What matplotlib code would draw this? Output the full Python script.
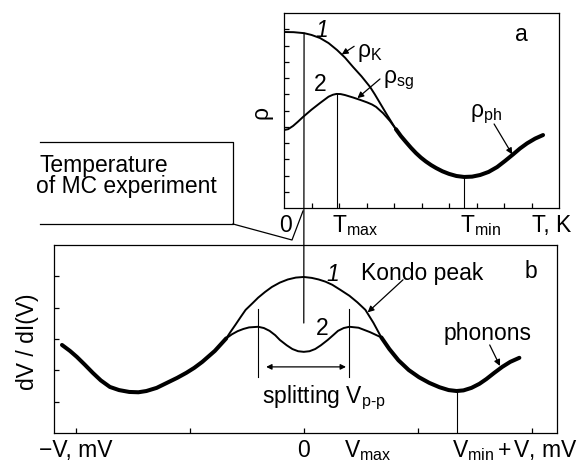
import numpy as np
import matplotlib.pyplot as plt
from matplotlib.lines import Line2D
from matplotlib.patches import ConnectionPatch

plt.rcParams['font.family'] = ['Liberation Sans', 'DejaVu Sans']
plt.rcParams['mathtext.fontset'] = 'custom'
plt.rcParams['mathtext.rm'] = 'Liberation Sans'
plt.rcParams['mathtext.it'] = 'Liberation Sans:italic'

W, H = 581, 462
FS = 16.5

# (a) resistivity vs temperature, in tick units
t_kondo = [0, 0.35, 0.73, 1.0, 1.31, 1.62, 1.93, 2.22, 2.51, 2.82, 3.13, 3.30, 3.49, 3.75, 4.07]
rho_kondo = [10.83, 10.82, 10.76, 10.65, 10.46, 10.15, 9.72, 9.25, 8.68, 8.10, 7.45, 7.00, 6.46, 5.72, 4.85]

t_sg = [0, 0.15, 0.33, 0.50, 0.69, 1.0, 1.31, 1.62, 1.78, 1.91, 2.06, 2.22, 2.51, 2.76,
        3.02, 3.20, 3.35, 3.60, 3.85, 4.07]
rho_sg = [4.80, 4.85, 5.05, 5.30, 5.60, 6.05, 6.46, 6.85, 6.97, 7.02, 7.01, 6.95, 6.80, 6.66,
          6.50, 6.37, 6.22, 5.84, 5.36, 4.85]

t_ph = [4.07, 4.25, 4.44, 4.62, 4.80, 4.98, 5.16, 5.35, 5.53, 5.76, 6.00, 6.27, 6.55,
        6.84, 7.13, 7.44, 7.75, 8.04, 8.33, 8.58, 8.84, 9.13, 9.42]
rho_ph = [4.85, 4.43, 4.05, 3.70, 3.38, 3.10, 2.86, 2.64, 2.46, 2.26, 2.10, 1.97, 1.91,
          1.93, 2.03, 2.22, 2.52, 2.90, 3.30, 3.66, 3.98, 4.27, 4.49]

t_max, rho_max = 1.91, 7.02
t_min, rho_min = 6.55, 1.91
t_mc = 0.73  # temperature of the MC experiment

# (b) differential resistance vs bias, in tick units
v_left = [-2.12, -2.05, -1.99, -1.92, -1.85, -1.78, -1.70, -1.62, -1.53, -1.45, -1.38,
          -1.29, -1.20, -1.11, -1.03, -0.96, -0.89, -0.78, -0.68]
r_left = [2.81, 2.62, 2.43, 2.18, 1.92, 1.68, 1.47, 1.37, 1.31, 1.30, 1.34,
          1.44, 1.60, 1.76, 1.92, 2.08, 2.27, 2.62, 3.02]

v_right = [0.68, 0.75, 0.83, 0.92, 1.01, 1.10, 1.19, 1.27, 1.34, 1.40, 1.47, 1.54,
           1.60, 1.67, 1.74, 1.81, 1.89]
r_right = [3.05, 2.68, 2.32, 2.01, 1.78, 1.60, 1.46, 1.37, 1.34, 1.36, 1.44, 1.57,
           1.72, 1.92, 2.11, 2.27, 2.40]

v_kondo = [-0.68, -0.64, -0.60, -0.55, -0.51, -0.45, -0.40, -0.34, -0.28, -0.21, -0.14,
           -0.07, 0, 0.07, 0.13, 0.19, 0.25, 0.32, 0.40, 0.47, 0.54, 0.61, 0.68]
r_kondo = [3.02, 3.24, 3.45, 3.72, 3.93, 4.14, 4.32, 4.50, 4.66, 4.80, 4.90,
           4.96, 4.98, 4.95, 4.90, 4.83, 4.73, 4.57, 4.38, 4.17, 3.93, 3.52, 3.05]

v_split = [-0.68, -0.63, -0.58, -0.53, -0.48, -0.40, -0.35, -0.30, -0.25, -0.21, -0.15,
           -0.10, -0.05, 0, 0.05, 0.10, 0.15, 0.21, 0.26, 0.30, 0.35, 0.40, 0.48, 0.58, 0.68]
r_split = [3.02, 3.15, 3.25, 3.32, 3.37, 3.39, 3.35, 3.26, 3.12, 2.97, 2.80,
           2.68, 2.61, 2.59, 2.61, 2.68, 2.80, 2.97, 3.13, 3.26, 3.35, 3.39, 3.36, 3.22, 3.05]

v_max = 0.40
v_min, r_min = 1.34, 1.34
mc_mark_end = 3.51


def fig_xy(px, py):
    return px / W, 1 - py / H


fig = plt.figure(figsize=(W / 100, H / 100), dpi=100)
ax_a = fig.add_axes([284 / W, 1 - 208 / H, 275 / W, 195 / H])
ax_b = fig.add_axes([54 / W, 1 - 433 / H, 503 / W, 188 / H])

for ax in (ax_a, ax_b):
    for s in ax.spines.values():
        s.set_linewidth(0.9)
    ax.tick_params(direction='in', length=3.3, width=0.9, labelbottom=False, labelleft=False)

thin = dict(color='black', lw=1.4, solid_capstyle='round', solid_joinstyle='round')
thick = dict(color='black', lw=2.9, solid_capstyle='round', solid_joinstyle='round')
rule = dict(color='black', lw=0.8)

# ---- panel a
ax_a.set_xlim(0, 10)
ax_a.set_ylim(0, 12)
ax_a.set_xticks(range(1, 10))
ax_a.set_yticks(range(1, 12))
ax_a.plot(t_kondo, rho_kondo, **thin)
ax_a.plot(t_sg, rho_sg, **thin)
ax_a.plot(t_ph, rho_ph, **thick)
ax_a.plot([t_max, t_max], [0, rho_max], **rule)
ax_a.plot([t_min, t_min], [0, rho_min], **rule)

lbl_a = ax_a.get_xaxis_transform()
ax_a.text(0.06, -0.125, '0', transform=lbl_a, ha='center', va='baseline', fontsize=FS)
ax_a.text(t_max - 0.15, -0.125, r'T$_{\rm max}$', transform=lbl_a, ha='left', va='baseline', fontsize=FS)
ax_a.text(t_min - 0.15, -0.125, r'T$_{\rm min}$', transform=lbl_a, ha='left', va='baseline', fontsize=FS)
ax_a.text(9.02, -0.125, 'T, K', transform=lbl_a, ha='left', va='baseline', fontsize=FS)
ax_a.text(-0.084, 0.49, 'ρ', transform=ax_a.transAxes, rotation=90, ha='center', va='center', fontsize=FS)

ax_a.text(1.38, 10.95, '1', style='italic', ha='center', va='center', fontsize=FS)
ax_a.text(1.31, 7.57, '2', ha='center', va='center', fontsize=FS)
ax_a.text(3.13, 9.6, r'ρ$_{\rm K}$', ha='center', va='center', fontsize=FS)
ax_a.text(4.15, 7.88, r'ρ$_{\rm sg}$', ha='center', va='center', fontsize=FS)
ax_a.text(7.35, 5.78, r'ρ$_{\rm ph}$', ha='center', va='center', fontsize=FS)
ax_a.text(8.62, 10.65, 'a', ha='center', va='center', fontsize=FS)

arr = dict(arrowstyle='-|>', color='black', lw=0.9, mutation_scale=9, shrinkA=0, shrinkB=0)
ax_a.annotate('', xy=(2.1, 9.45), xytext=(2.55, 9.95), arrowprops=arr)
ax_a.annotate('', xy=(2.67, 6.76), xytext=(3.49, 7.94), arrowprops=arr)
ax_a.annotate('', xy=(8.3, 3.3), xytext=(7.64, 5.17), arrowprops=arr)

# ---- panel b
ax_b.set_xlim(-2.19, 2.22)
ax_b.set_ylim(0, 6)
ax_b.set_xticks(range(-2, 3))
ax_b.set_yticks(range(1, 6))
ax_b.plot(v_left, r_left, **thick)
ax_b.plot(v_right, r_right, **thick)
ax_b.plot(v_kondo, r_kondo, **thin)
ax_b.plot(v_split, r_split, **thin)
ax_b.plot([-v_max, -v_max], [1.78, 3.97], **rule)
ax_b.plot([v_max, v_max], [1.78, 3.97], **rule)
ax_b.plot([v_min, v_min], [0, r_min], **rule)
ax_b.annotate('', xy=(-0.33, 2.11), xytext=(0.37, 2.11),
              arrowprops=dict(arrowstyle='<|-|>', color='black', lw=0.9,
                              mutation_scale=8, shrinkA=0, shrinkB=0))

lbl_b = ax_b.get_xaxis_transform()
ax_b.text(-2, -0.13, '−V, mV', transform=lbl_b, ha='center', va='baseline', fontsize=FS)
ax_b.text(0, -0.13, '0', transform=lbl_b, ha='center', va='baseline', fontsize=FS)
ax_b.text(v_max - 0.05, -0.13, r'V$_{\rm max}$', transform=lbl_b, ha='left', va='baseline', fontsize=FS)
ax_b.text(v_min - 0.04, -0.13, r'V$_{\rm min}\,$+$\,$V, mV', transform=lbl_b, ha='left', va='baseline', fontsize=FS)
ax_b.text(-0.052, 0.484, 'dV / dI(V)', transform=ax_b.transAxes, rotation=90, ha='center', va='center', fontsize=FS)

ax_b.text(0.25, 5.05, '1', style='italic', ha='center', va='center', fontsize=FS)
ax_b.text(0.16, 3.35, '2', ha='center', va='center', fontsize=FS)
ax_b.text(1.04, 5.08, 'Kondo peak', ha='center', va='center', fontsize=FS)
ax_b.text(1.99, 5.14, 'b', ha='center', va='center', fontsize=FS)
ax_b.text(1.61, 3.19, 'phonons', ha='center', va='center', fontsize=FS)
ax_b.text(-0.37, 1.12, r'splitting V$_{\rm p\text{-}p}$', ha='left', va='center', fontsize=FS)
ax_b.annotate('', xy=(0.56, 3.85), xytext=(0.87, 4.89), arrowprops=arr)
ax_b.annotate('', xy=(1.72, 2.14), xytext=(1.63, 2.81), arrowprops=arr)

# marker of the MC experiment temperature running through both panels
mark = ConnectionPatch(xyA=(t_mc, rho_kondo[2]), coordsA=ax_a.transData,
                       xyB=(0, mc_mark_end), coordsB=ax_b.transData,
                       color='black', lw=0.9)
fig.add_artist(mark)

# callout box
fig.text(*fig_xy(40, 172), 'Temperature', ha='left', va='baseline', fontsize=FS)
fig.text(*fig_xy(36, 193), 'of MC experiment', ha='left', va='baseline', fontsize=FS)
box = [(40, 142), (233, 142), (233, 224), (40, 224)]
leader = [(233, 224), (292, 240), (303, 211)]
for pts in (box, leader):
    xs, ys = zip(*[fig_xy(x, y) for x, y in pts])
    fig.add_artist(Line2D(xs, ys, transform=fig.transFigure, color='black', lw=0.9))

fig.savefig('out.png', dpi=100)
